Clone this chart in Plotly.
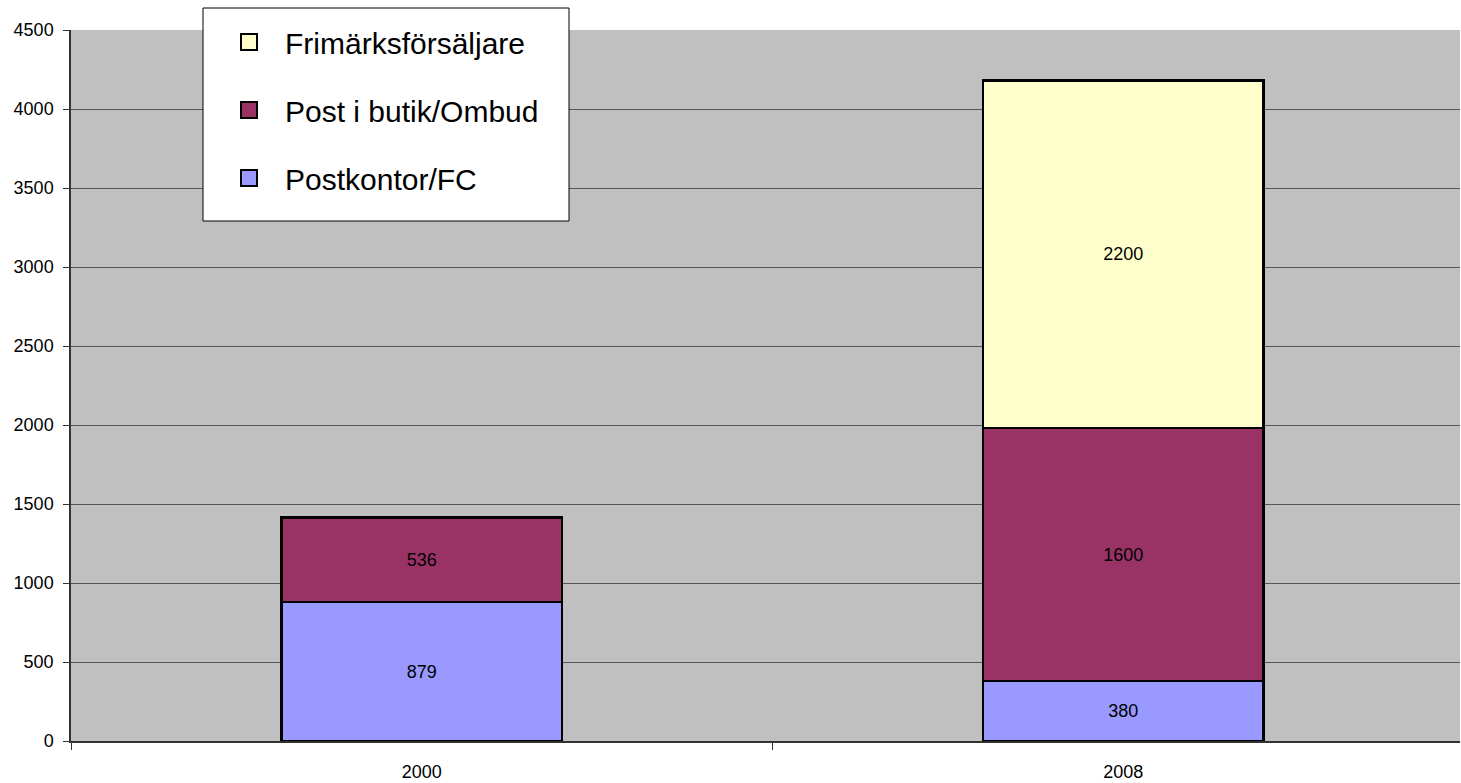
import plotly.graph_objects as go

categories = ["2000", "2008"]
postkontor = [879, 380]
post_i_butik = [536, 1600]
frimarks = [0, 2200]
series_names = ["Postkontor/FC", "Post i butik/Ombud", "Frimärksförsäljare"]
series_colors = ["#9999FF", "#993366", "#FFFFCC"]
legend_ranks = [3, 2, 1]
y_ticks = [0, 500, 1000, 1500, 2000, 2500, 3000, 3500, 4000, 4500]

W, H = 1461, 783
ML, MR, MT, MB = 71, 1, 30, 42
PW, PH = W - ML - MR, H - MT - MB

fig = go.Figure()
for i, (name, vals, col) in enumerate(zip(series_names, [postkontor, post_i_butik, frimarks], series_colors)):
    texts = [str(v) if v else "" for v in vals]
    fig.add_trace(go.Bar(
        x=categories, y=vals, name=name, showlegend=False,
        marker=dict(color=col, line=dict(color="black", width=2.5)),
        text=texts, textposition="inside", insidetextanchor="middle",
        textangle=0, constraintext="none",
        textfont=dict(color="black", size=18, family="Liberation Sans, Arial"),
        width=0.4, hoverinfo="skip",
    ))
# legend entries (larger square swatches)
for i, (name, col) in enumerate(zip(series_names, series_colors)):
    fig.add_trace(go.Scatter(
        x=[None], y=[None], name=name, mode="markers", legendgroup=f"g{i}",
        legendrank=legend_ranks[i], showlegend=True, hoverinfo="skip",
        marker=dict(symbol="square", size=16, color=col, line=dict(color="black", width=2)),
    ))

def px_x(px):
    return (px - ML) / PW

def px_y(py):
    return (H - MB - py) / PH

fig.add_shape(type="rect", xref="paper", yref="paper",
              x0=px_x(203), x1=px_x(569), y0=px_y(221), y1=px_y(8),
              fillcolor="white", line=dict(color="black", width=1), layer="above")

fig.update_layout(
    width=W, height=H,
    margin=dict(l=ML, r=MR, t=MT, b=MB, pad=0),
    barmode="stack",
    plot_bgcolor="#C0C0C0",
    paper_bgcolor="white",
    font=dict(family="Liberation Sans, Arial", color="black", size=18),
    showlegend=True,
    legend=dict(
        x=px_x(213), y=px_y(16), xanchor="left", yanchor="top",
        traceorder="grouped", tracegroupgap=26,
        font=dict(size=30, family="Liberation Sans, Arial", color="black"),
        bgcolor="rgba(0,0,0,0)", borderwidth=0, itemwidth=62,
    ),
    xaxis=dict(
        type="category", tickson="boundaries", ticks="outside", ticklen=7,
        tickcolor="#333333", showline=True, linecolor="#333333", linewidth=1.5,
        showgrid=False, tickfont=dict(size=18), ticklabelstandoff=14,
        range=[-0.5, 1.48],
    ),
    yaxis=dict(
        range=[0, 4500], tickvals=y_ticks, ticks="outside", ticklen=6,
        tickcolor="#333333", showline=True, linecolor="#333333", linewidth=1.5,
        showgrid=True, gridcolor="#555555", gridwidth=1, zeroline=False,
        tickfont=dict(size=18), ticklabelstandoff=6,
    ),
)

fig.write_html("out.html", config={"displayModeBar": False},
               post_script="document.body.style.margin='0';document.body.style.overflow='hidden';")
